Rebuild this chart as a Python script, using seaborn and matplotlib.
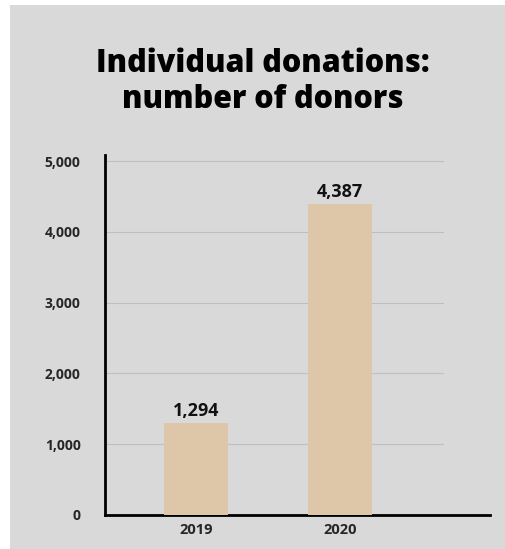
import matplotlib
matplotlib.use("Agg")
import matplotlib.pyplot as plt
import seaborn as sns
import pandas as pd
from matplotlib.patches import Rectangle

# -----------------------------
# Data
# -----------------------------
years = ["2019", "2020"]
donors = [1294, 4387]
y_ticks = [0, 1000, 2000, 3000, 4000, 5000]

df = pd.DataFrame({"year": years, "donors": donors})

# -----------------------------
# Style
# -----------------------------
sns.set_style("white")
plt.rcParams["font.family"] = ["Open Sans", "DejaVu Sans"]

bg = "#d9d9d9"
bar_color = "#dec6a8"
grid_color = "#bfbfbf"

fig = plt.figure(figsize=(5.06, 5.49), dpi=100)
fig.patch.set_facecolor("white")
fig.patches.append(Rectangle((10 / 506, 0), 1 - 10 / 506, 1 - 5 / 549,
                             transform=fig.transFigure, facecolor=bg,
                             edgecolor="none", zorder=-5))

ax = fig.add_axes([105 / 506, 1 - 515 / 549, (444 - 105) / 506, (515 - 155) / 549])
ax.set_facecolor("none")
ax.set_zorder(2)

sns.barplot(data=df, x="year", y="donors", color=bar_color, width=0.45,
            saturation=1, linewidth=0, ax=ax, zorder=3)

# value labels
for c in ax.containers:
    ax.bar_label(c, labels=[f"{v:,}" for v in donors], padding=2.5,
                 fontsize=13, fontweight="bold", color="#111111")

ax.set_xlim(-0.632, 1.722)
ax.set_ylim(0, 5085)
ax.set_yticks(y_ticks)
ax.set_yticklabels([f"{v:,}" for v in y_ticks], fontsize=10, fontweight="bold")
ax.set_xticks(range(len(years)))
ax.set_xticklabels(years, fontsize=10.5, fontweight="bold")
ax.tick_params(axis="y", length=9.5, width=0.8, color=grid_color, pad=8)
ax.tick_params(axis="x", length=0, pad=6)

ax.yaxis.grid(True, color=grid_color, linewidth=0.8, zorder=0)
ax.set_axisbelow(True)

ax.set_xlabel("")
ax.set_ylabel("")

for s in ["top", "right"]:
    ax.spines[s].set_visible(False)
ax.spines["left"].set_linewidth(2)
ax.spines["left"].set_color("black")
ax.spines["bottom"].set_linewidth(2)
ax.spines["bottom"].set_color("black")
ax.spines["bottom"].set_bounds(-0.632, 2.04)
ax.spines["bottom"].set_clip_on(False)

fig.text(263 / 506, 1 - 82 / 549, "Individual donations:\nnumber of donors",
         ha="center", va="center", fontsize=22, fontweight="heavy",
         linespacing=1.2, color="black")

fig.savefig("out.png", dpi=100, facecolor=fig.get_facecolor())
